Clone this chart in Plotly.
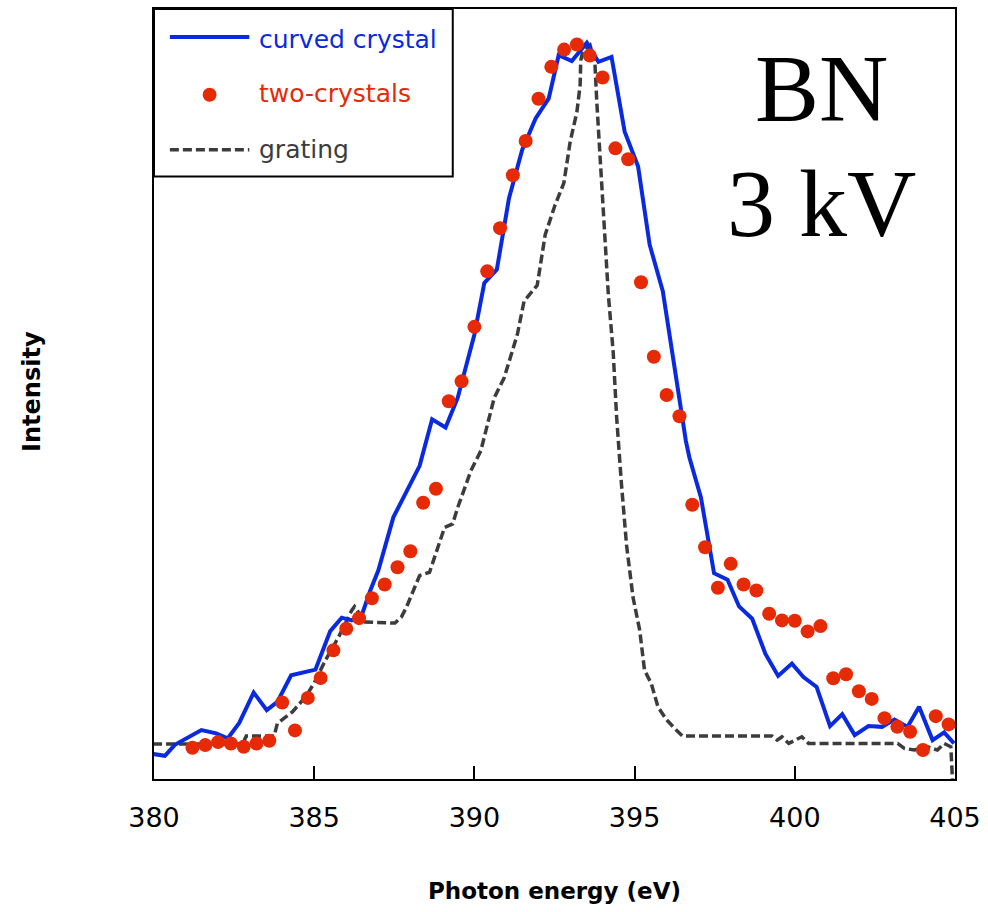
import plotly.graph_objects as go

# ---------------- data ----------------
two_x = [381.2, 381.6, 382.0, 382.4, 382.8, 383.2, 383.6, 384.0, 384.4, 384.8,
         385.2, 385.6, 386.0, 386.4, 386.8, 387.2, 387.6, 388.0, 388.4, 388.8,
         389.2, 389.6, 390.0, 390.4, 390.8, 391.2, 391.6, 392.0, 392.4, 392.8,
         393.2, 393.6, 394.0, 394.4, 394.8, 395.2, 395.6, 396.0, 396.4, 396.8,
         397.2, 397.6, 398.0, 398.4, 398.8, 399.2, 399.6, 400.0, 400.4, 400.8,
         401.2, 401.6, 402.0, 402.4, 402.8, 403.2, 403.6, 404.0, 404.4, 404.8]
two_y = [4.05, 4.40, 4.79, 4.62, 4.18, 4.62, 4.96, 9.94, 6.31, 10.53,
         13.12, 16.71, 19.52, 20.89, 23.48, 25.26, 27.50, 29.57, 35.88, 37.69,
         49.05, 51.64, 58.72, 65.93, 71.54, 78.41, 82.86, 88.34, 92.49, 94.73,
         95.38, 93.95, 91.10, 81.90, 80.48, 64.51, 54.83, 49.87, 47.11, 35.62,
         30.09, 24.83, 27.94, 25.26, 24.48, 21.46, 20.60, 20.56, 19.17, 19.86,
         13.08, 13.60, 11.40, 10.40, 7.90, 6.77, 6.13, 3.76, 8.16, 7.09]

curved_x = [379.98, 380.34, 380.65, 381.06, 381.48, 381.94, 382.30, 382.66, 383.11, 383.52,
            383.85, 384.28, 385.04, 385.50, 385.86, 386.17, 386.48, 386.75, 387.00, 387.47,
            387.88, 388.29, 388.68, 389.10, 389.48, 389.69, 390.00, 390.31, 390.70, 391.08,
            391.49, 391.91, 392.32, 392.63, 393.04, 393.51, 393.87, 394.28, 394.69, 395.11,
            395.47, 395.88, 396.19, 396.60, 396.71, 397.07, 397.48, 397.90, 398.26, 398.67,
            399.08, 399.48, 399.91, 400.27, 400.68, 401.10, 401.48, 401.87, 402.30, 402.72,
            403.11, 403.52, 403.88, 404.30, 404.66, 404.97]
curved_y = [3.24, 3.02, 4.44, 5.35, 6.35, 5.92, 5.27, 7.29, 11.23, 8.94,
            10.01, 13.47, 14.21, 19.21, 20.95, 20.60, 21.24, 24.48, 27.07, 33.98,
            37.44, 40.67, 46.72, 45.64, 49.52, 52.76, 57.73, 64.42, 66.15, 75.43,
            81.70, 85.79, 88.38, 94.00, 93.23, 95.63, 93.13, 93.78, 84.07, 79.53,
            69.39, 63.34, 54.70, 43.91, 41.75, 36.57, 26.72, 25.87, 22.41, 20.82,
            16.28, 13.38, 14.99, 13.25, 11.96, 6.87, 8.42, 5.70, 6.87, 6.77,
            7.73, 6.77, 9.37, 5.05, 6.05, 4.62]

grating_x = [379.97, 382.76, 382.88, 383.75, 383.85, 384.11, 384.32, 384.73, 384.99, 385.35,
             385.76, 386.17, 386.26, 386.59, 387.52, 387.72, 387.88, 388.29, 388.60, 389.07,
             389.32, 389.48, 389.89, 390.20, 390.62, 390.93, 391.13, 391.34, 391.55, 391.96,
             392.21, 392.52, 392.79, 392.99, 393.20, 393.30, 393.32, 393.38, 393.61, 393.76,
             393.82, 393.92, 394.02, 394.18, 394.33, 394.44, 394.59, 394.75, 394.95, 395.16,
             395.31, 395.52, 395.73, 395.99, 396.30, 396.50, 399.29, 399.45, 399.60, 399.81,
             400.22, 400.43, 403.21, 403.42, 403.73, 404.14, 404.45, 404.66, 404.87, 404.92]
grating_y = [4.53, 4.53, 5.57, 5.57, 7.22, 8.07, 8.72, 10.66, 12.40, 15.41,
             18.43, 21.89, 22.41, 20.38, 20.25, 21.02, 22.32, 26.42, 26.85, 32.68,
             33.12, 35.27, 40.03, 42.62, 49.52, 52.11, 54.70, 57.73, 62.05, 64.12,
             70.69, 74.57, 77.37, 82.77, 86.66, 90.12, 93.36, 94.43, 95.30, 93.13,
             87.95, 80.61, 74.13, 62.91, 55.57, 46.93, 38.30, 30.31, 23.61, 19.30,
             14.12, 12.40, 9.37, 7.73, 6.35, 5.57, 5.57, 5.05, 5.48, 4.62,
             5.48, 4.62, 4.62, 3.98, 3.76, 4.18, 3.76, 4.62, 4.18, 0.0]

x_ticks = [380, 385, 390, 395, 400, 405]
legend_names = ["curved crystal", "two-crystals", "grating"]

BLUE = "#0a2ae0"
RED = "#e62a06"
GRAY = "#3c3c3c"

# ---------------- figure ----------------
W, H = 988, 912
L, R, T, B = 154, 27, 7, 133
PW, PH = W - L - R, H - T - B


def px(xp):
    return (xp - L) / PW


def py(yp):
    return (H - B - yp) / PH


fig = go.Figure()
fig.add_trace(go.Scatter(x=grating_x, y=grating_y, mode="lines",
                         line=dict(color=GRAY, width=3.5, dash="9px,4px"),
                         name=legend_names[2]))
fig.add_trace(go.Scatter(x=curved_x, y=curved_y, mode="lines",
                         line=dict(color=BLUE, width=4),
                         name=legend_names[0]))
fig.add_trace(go.Scatter(x=two_x, y=two_y, mode="markers",
                         marker=dict(color=RED, size=14, line=dict(width=0)),
                         name=legend_names[1]))

shapes = []
# legend box
shapes.append(dict(type="rect", xref="paper", yref="paper",
                   x0=px(154), x1=px(455), y0=py(175), y1=py(7),
                   line=dict(color="black", width=2), fillcolor="white", layer="above"))
shapes.append(dict(type="line", xref="paper", yref="paper",
                   x0=px(170), x1=px(250), y0=py(35), y1=py(35),
                   line=dict(color=BLUE, width=4), layer="above"))
shapes.append(dict(type="circle", xref="paper", yref="paper",
                   x0=px(203), x1=px(217), y0=py(100), y1=py(86),
                   line=dict(width=0), fillcolor=RED, layer="above"))
shapes.append(dict(type="line", xref="paper", yref="paper",
                   x0=px(170), x1=px(250), y0=py(148), y1=py(148),
                   line=dict(color=GRAY, width=3.5, dash="9px,4px"), layer="above"))

ann = []
leg_font = "DejaVu Sans"
for name, yy, col in zip(legend_names, [38, 92, 148], [BLUE, RED, GRAY]):
    ann.append(dict(text=name, xref="paper", yref="paper", x=px(258), y=py(yy),
                    xanchor="left", yanchor="middle", showarrow=False,
                    font=dict(family=leg_font, size=25, color=col)))
ann.append(dict(text="BN", xref="paper", yref="paper", x=px(827), y=py(87),
                xanchor="center", yanchor="middle", showarrow=False,
                font=dict(family="Liberation Serif, Times New Roman, serif", size=96, color="black")))
ann.append(dict(text="3 kV", xref="paper", yref="paper", x=px(826), y=py(202),
                xanchor="center", yanchor="middle", showarrow=False,
                font=dict(family="Liberation Serif, Times New Roman, serif", size=96, color="black")))
ann.append(dict(text="<b>Photon energy (eV)</b>", xref="paper", yref="paper",
                x=px(557), y=py(891), xanchor="center", yanchor="middle", showarrow=False,
                font=dict(family="DejaVu Sans", size=23, color="black")))
ann.append(dict(text="<b>Intensity</b>", xref="paper", yref="paper",
                x=px(31), y=py(390), xanchor="center", yanchor="middle", showarrow=False,
                textangle=-90, font=dict(family="DejaVu Sans", size=24, color="black")))

fig.update_layout(
    width=W, height=H, autosize=False,
    margin=dict(l=L, r=R, t=T, b=B, pad=0),
    paper_bgcolor="white", plot_bgcolor="white",
    showlegend=False,
    shapes=shapes, annotations=ann,
    xaxis=dict(range=[380, 405], tickvals=x_ticks, ticktext=[str(v) for v in x_ticks],
               ticks="inside", ticklen=13, tickwidth=2, tickcolor="black",
               showline=True, linecolor="black", linewidth=2, mirror=True,
               showgrid=False, zeroline=False, ticklabelstandoff=14,
               tickfont=dict(family="DejaVu Sans", size=27, color="black")),
    yaxis=dict(range=[0, 100], showticklabels=False, ticks="",
               showline=True, linecolor="black", linewidth=2, mirror=True,
               showgrid=False, zeroline=False),
)

fig.write_html(
    "out.html",
    config={"displayModeBar": False, "responsive": False},
    post_script=(
        "document.documentElement.style.overflow='hidden';"
        "document.body.style.margin='0px';"
        "document.body.style.overflow='hidden';"
    ),
)
